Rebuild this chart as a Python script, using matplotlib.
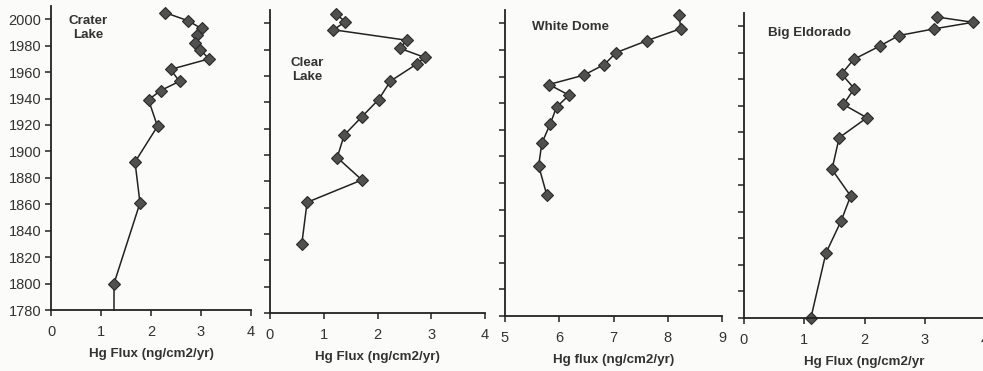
import matplotlib.pyplot as plt

plt.rcParams['font.family'] = ['Liberation Sans', 'DejaVu Sans']

# Crater Lake (last entry is the line running down to the axis, no marker)
crater_flux = [2.28, 2.73, 3.01, 2.91, 2.87, 2.98, 3.16, 2.39, 2.57, 2.19, 1.95, 2.13, 1.68, 1.78, 1.26, 1.26]
crater_year = [2005, 1999, 1993, 1988, 1982, 1977, 1970, 1962, 1953, 1946, 1939, 1919, 1892, 1861, 1800, 1780]

clear_flux = [1.23, 1.40, 1.18, 2.55, 2.41, 2.88, 2.73, 2.24, 2.02, 1.71, 1.38, 1.25, 1.71, 0.69, 0.59]
clear_year = [2007, 2001, 1995, 1987, 1981, 1974, 1969, 1956, 1942, 1929, 1915, 1898, 1881, 1864, 1832]

white_flux = [8.21, 8.24, 7.62, 7.05, 6.83, 6.45, 5.81, 6.18, 5.95, 5.83, 5.68, 5.62, 5.77]
white_year = [2006, 1996, 1987, 1978, 1969, 1961, 1954, 1946, 1937, 1924, 1910, 1893, 1871]

eldo_flux = [3.20, 3.80, 3.15, 2.57, 2.25, 1.82, 1.62, 1.83, 1.65, 2.04, 1.58, 1.46, 1.77, 1.61, 1.36, 1.11]
eldo_year = [2007, 2003, 1998, 1993, 1985, 1975, 1964, 1953, 1941, 1931, 1916, 1892, 1872, 1853, 1829, 1780]

fig = plt.figure(figsize=(9.83, 3.71), dpi=100)
fig.patch.set_facecolor('#fbfbf9')
W, H = 983, 371

# panel boxes in pixels: left, right, top, bottom
boxes = [(51, 251, 6, 310), (270, 485, 10, 313), (505, 722, 10, 316), (744, 985, 13, 318)]
panels = [
    (crater_flux, crater_year, (0, 4), 'Crater\nLake', (88, 28), 'Hg Flux (ng/cm2/yr)'),
    (clear_flux, clear_year, (0, 4), 'Clear\nLake', (307, 70), 'Hg Flux (ng/cm2/yr)'),
    (white_flux, white_year, (5, 9), 'White Dome', (570, 27), 'Hg flux (ng/cm2/yr)'),
    (eldo_flux, eldo_year, (0, 4), 'Big Eldorado', (810, 33), 'Hg Flux (ng/cm2/yr'),
]

for i, ((l, r, t, b), (fx, yr, xl, name, pos, xlab)) in enumerate(zip(boxes, panels)):
    ax = fig.add_axes([l / W, 1 - b / H, (r - l) / W, (b - t) / H])
    ax.set_facecolor('none')
    ax.plot(fx, yr, color='#222222', lw=1.1, marker='D', ms=6.5,
            mfc='#505050', mec='#2a2a2a', mew=0.8,
            markevery=list(range(len(fx) - 1)) if i == 0 else None,
            clip_on=False)
    ax.set_xlim(*xl)
    ax.set_ylim(1780, 2010)
    ax.set_yticks(range(1780, 2001, 20))
    ax.set_xticks(range(xl[0], xl[1] + 1))
    for s in ['top', 'right']:
        ax.spines[s].set_visible(False)
    for s in ['left', 'bottom']:
        ax.spines[s].set_linewidth(1.3)
        ax.spines[s].set_color('#222222')
    ax.tick_params(direction='out', length=4, width=1.1, color='#222222',
                   labelsize=10.5, labelcolor='#333333')
    ax.tick_params(axis='x', pad=7)
    ax.tick_params(axis='y', pad=3)
    if i > 0:
        ax.set_yticklabels([])
    ax.set_xlabel(xlab, fontsize=9.6, fontweight='bold', color='#333333', labelpad=6)
    fig.text(pos[0] / W, 1 - pos[1] / H, name, ha='center', va='center',
             fontsize=9.6, fontweight='bold', color='#333333', linespacing=1.3)

fig.savefig('out.png', dpi=100, facecolor=fig.get_facecolor())
